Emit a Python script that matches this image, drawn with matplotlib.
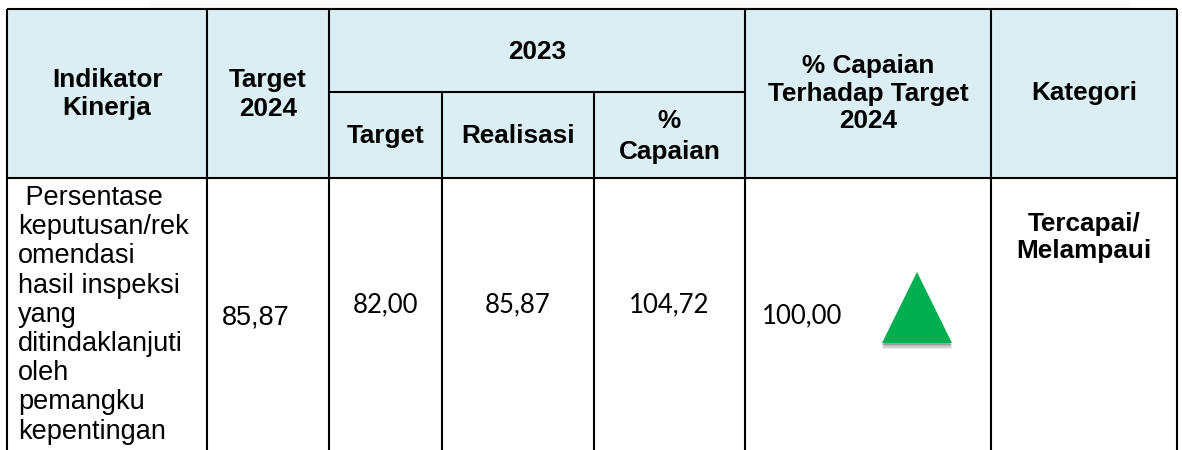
import matplotlib.pyplot as plt
from matplotlib import patheffects

# --- table content ---
head_top = ["Indikator\nKinerja", "Target\n2024", "2023", "% Capaian\nTerhadap Target\n2024", "Kategori"]
head_sub = ["Target", "Realisasi", "%\nCapaian"]
indikator = [" Persentase", "keputusan/rek", "omendasi", "hasil inspeksi", "yang",
             "ditindaklanjuti", "oleh", "pemangku", "kepentingan"]
target_2024 = 85.87
target_2023 = 82.00
realisasi_2023 = 85.87
capaian_2023 = 104.72
capaian_thd_2024 = 100.00
kategori = "Tercapai/\nMelampaui"

# --- layout (pixels) ---
W, H = 1182, 450
col_x = [7, 207, 329, 442, 594, 745, 991, 1177]
top_y, mid_y, head_y = 9, 92, 178
head_color = '#DAEEF3'
arial = 'Liberation Sans'
calibri = 'Lato'


def fmt(v):
    return '{:.2f}'.format(v).replace('.', ',')


def put_lines(ax, x, y0, step, text, **kw):
    for i, s in enumerate(text.split('\n')):
        ax.text(x, y0 + i * step, s, va='baseline', **kw)


fig = plt.figure(figsize=(W / 100, H / 100), dpi=100)
ax = fig.add_axes([0, 0, 1, 1])
ax.set_xlim(0, W)
ax.set_ylim(H, 0)
ax.axis('off')

# faint shadow above the table
ax.add_patch(plt.Rectangle((150, 0), 980, top_y, color='#f9f9f9', lw=0, zorder=0))
# header fill
ax.add_patch(plt.Rectangle((col_x[0], top_y), col_x[-1] - col_x[0], head_y - top_y,
                           color=head_color, lw=0, zorder=1))

# grid lines
lw = 1.5
ax.hlines([top_y, head_y], col_x[0], col_x[-1], color='black', lw=lw, zorder=3)
ax.hlines(mid_y, col_x[2], col_x[5], color='black', lw=lw, zorder=3)
for i, x in enumerate(col_x):
    if i in (3, 4):
        ax.vlines(x, mid_y, H, color='black', lw=lw, zorder=3)
    else:
        ax.vlines(x, top_y, H, color='black', lw=lw, zorder=3)

hb = dict(fontsize=18.8, fontweight='bold', family=arial, ha='center')
cx = [(a + b) / 2 for a, b in zip(col_x[:-1], col_x[1:])]

# header row
put_lines(ax, cx[0], 87, 28, head_top[0], **hb)
put_lines(ax, cx[1], 87, 29, head_top[1], **hb)
put_lines(ax, (col_x[2] + col_x[5]) / 2, 59, 0, head_top[2], **hb)
put_lines(ax, cx[5], 73, 27.5, head_top[3], **hb)
put_lines(ax, cx[6], 100, 0, head_top[4], **hb)
put_lines(ax, cx[2], 143, 0, head_sub[0], **hb)
put_lines(ax, cx[3], 143, 0, head_sub[1], **hb)
put_lines(ax, cx[4], 128, 31, head_sub[2], **hb)

# body row
put_lines(ax, 18, 205, 29.2, '\n'.join(indikator), fontsize=19.5, family=arial, ha='left')
ax.text(222, 325, fmt(target_2024), fontsize=19.5, family=arial, ha='left', va='baseline')
nb = dict(fontsize=18.5, family=calibri, ha='center', va='baseline')
ax.text(cx[2], 312, fmt(target_2023), **nb)
ax.text(cx[3], 312, fmt(realisasi_2023), **nb)
ax.text(cx[4], 312, fmt(capaian_2023), **nb)
ax.text(762, 323, fmt(capaian_thd_2024), fontsize=18.5, family=calibri, ha='left', va='baseline')
put_lines(ax, cx[6], 231, 27, kategori, **hb)

# status indicator with soft drop shadow
shadow = [patheffects.SimplePatchShadow(offset=(0, -d), shadow_rgbFace='#444444', alpha=a)
          for d, a in [(4.5, 0.10), (3.5, 0.15), (2.5, 0.2), (1.5, 0.2)]]
ax.plot([917], [307.5], marker='^', ms=51, color='#00B050', mec='none', zorder=4,
        path_effects=shadow + [patheffects.Normal()])

fig.savefig('out.png', dpi=100)
